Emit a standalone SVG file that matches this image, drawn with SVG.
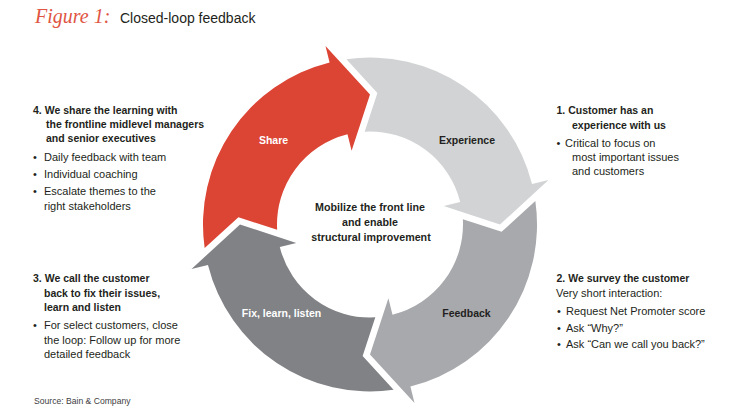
<svg xmlns="http://www.w3.org/2000/svg" xmlns:xlink="http://www.w3.org/1999/xlink" width="750" height="414" viewBox="0 0 750 414">
<style>
text{font-family:"Liberation Sans",Arial,sans-serif;fill:#231F20}
.b{font-weight:bold;font-size:10.5px}
.r{font-size:11px}
.lbl{font-weight:bold;font-size:10.5px;text-anchor:middle}
.w{fill:#fff}
.c{font-weight:bold;font-size:10.7px;text-anchor:middle}
</style>
<defs>
<path id="seg" d="M -165.34,23.60 A 167 167 0 0 1 -40.4,-162.04 L -44.5,-178.5 L 0,-130 L -18.4,-73.7 L -22.5,-90.2 A 93 93 0 0 0 -92.85,5.31 L -131.59,-7.36 Z"/>
</defs>
<rect width="750" height="414" fill="#fff"/>
<g id="title">
<text x="35" y="22.5" style="font-family:'Liberation Serif',serif;font-style:italic;font-size:20px;fill:#E05543">Figure 1:</text>
<text x="120" y="22.5" style="font-size:14px">Closed-loop feedback</text>
</g>
<g id="share">
<use xlink:href="#seg" transform="translate(370 224.5)" fill="#DC4434"/>
<text class="lbl w" x="273.5" y="143.5">Share</text>
</g>
<g id="experience">
<use xlink:href="#seg" transform="translate(370 224.5) rotate(90)" fill="#D1D3D4"/>
<text class="lbl" x="467" y="144">Experience</text>
</g>
<g id="feedback">
<use xlink:href="#seg" transform="translate(370 224.5) rotate(180)" fill="#A7A9AC"/>
<text class="lbl" x="466.5" y="316.5">Feedback</text>
</g>
<g id="fix">
<use xlink:href="#seg" transform="translate(370 224.5) rotate(270)" fill="#808285"/>
<text class="lbl w" x="281.5" y="316.5">Fix, learn, listen</text>
</g>
<g id="center">
<text class="c" x="370" y="211">Mobilize the front line</text>
<text class="c" x="370" y="226">and enable</text>
<text class="c" x="371" y="240.5">structural improvement</text>
</g>
<g id="note-1">
<text class="b" x="556.5" y="114">1. Customer has an</text>
<text class="b" x="572" y="128.5">experience with us</text>
<text class="r" x="556.5" y="147">•</text>
<text class="r" x="565" y="147">Critical to focus on</text>
<text class="r" x="572" y="161">most important issues</text>
<text class="r" x="572" y="175">and customers</text>
</g>
<g id="note-2">
<text class="b" x="556.5" y="281.5">2. We survey the customer</text>
<text class="r" x="556" y="296.5">Very short interaction:</text>
<text class="r" x="557" y="315">•</text>
<text class="r" x="566" y="315">Request Net Promoter score</text>
<text class="r" x="557" y="331.5">•</text>
<text class="r" x="566" y="331.5">Ask “Why?”</text>
<text class="r" x="557" y="348">•</text>
<text class="r" x="566" y="348">Ask “Can we call you back?”</text>
</g>
<g id="note-3">
<text class="b" x="33" y="282">3. We call the customer</text>
<text class="b" x="44" y="296.5">back to fix their issues,</text>
<text class="b" x="44" y="310.5">learn and listen</text>
<text class="r" x="33" y="329">•</text>
<text class="r" x="44" y="329">For select customers, close</text>
<text class="r" x="44" y="343.5">the loop: Follow up for more</text>
<text class="r" x="44" y="357.5">detailed feedback</text>
</g>
<g id="note-4">
<text class="b" x="33" y="114">4. We share the learning with</text>
<text class="b" x="46" y="128.3">the frontline midlevel managers</text>
<text class="b" x="46" y="142.3">and senior executives</text>
<text class="r" x="33" y="160.5">•</text>
<text class="r" x="44" y="160.5">Daily feedback with team</text>
<text class="r" x="33" y="177.5">•</text>
<text class="r" x="44" y="177.5">Individual coaching</text>
<text class="r" x="33" y="194.5">•</text>
<text class="r" x="44" y="194.5">Escalate themes to the</text>
<text class="r" x="44" y="209.5">right stakeholders</text>
</g>
<g id="source">
<text x="34" y="404" style="font-size:8.6px;fill:#414042">Source: Bain &amp; Company</text>
</g>
</svg>
